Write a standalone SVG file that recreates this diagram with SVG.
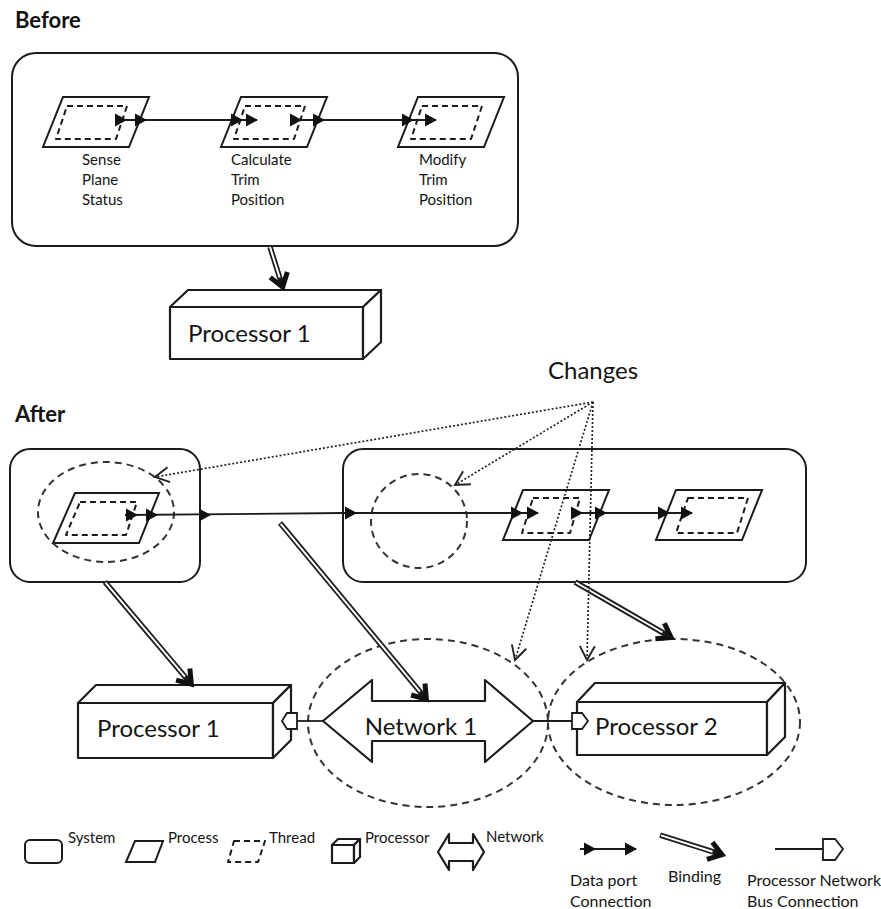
<svg xmlns="http://www.w3.org/2000/svg" width="881" height="909" viewBox="0 0 881 909">
<defs>
<style>
.t{font-family:Lato,'Liberation Sans',sans-serif;fill:#141414}
.h{font-weight:bold;font-size:22px}
.lbl{font-size:15px}
.big{font-size:24px}
.leg{font-size:15px}
.leg2{font-size:16px}
.sys{fill:#fff;stroke:#1c1c1c;stroke-width:2}
.proc{fill:#fff;stroke:#1c1c1c;stroke-width:2}
.box{fill:#fff;stroke:#1c1c1c;stroke-width:2.2;stroke-linejoin:round}
.thr{fill:none;stroke:#1c1c1c;stroke-width:2;stroke-dasharray:6 4;stroke-linejoin:round}
.chg{fill:none;stroke:#333;stroke-width:2;stroke-dasharray:7 5}
.dl{stroke:#1c1c1c;stroke-width:1.8;fill:none}
.dot{stroke:#222;stroke-width:1.7;stroke-dasharray:2 2;fill:none}
.bo{stroke:#1c1c1c;stroke-width:5.5}
.bi{stroke:#fff;stroke-width:2}
.bh{fill:none;stroke:#111;stroke-width:5;stroke-linejoin:miter}
.port{fill:#fff;stroke:#1c1c1c;stroke-width:1.8}
</style>
<path id="dp" d="M0,0 L-12,-6.5 L-12,6.5 Z" fill="#111"/>
<marker id="vee" markerUnits="userSpaceOnUse" markerWidth="24" markerHeight="24" viewBox="-18 -12 24 24" refX="0" refY="0" orient="auto">
<path d="M-14,-7.5 L0,0 L-14,7.5" fill="none" stroke="#222" stroke-width="1.9"/>
</marker>
</defs>
<rect width="881" height="909" fill="#fff"/>

<!-- titles -->
<text class="t h" x="15" y="28">Before</text>
<text class="t h" x="15" y="422">After</text>
<text class="t big" x="548" y="379">Changes</text>

<!-- Before: system -->
<g id="before-system">
<rect class="sys" x="12" y="53" width="506" height="193" rx="24"/>
</g>
<g id="sense-plane-status">
<polygon class="proc" points="63,97 149,97 129,147 43,147"/>
<polygon class="thr" points="67,106 127,106 116,139 56,139"/>
<text class="t lbl"><tspan x="82" y="165">Sense</tspan><tspan x="82" y="185">Plane</tspan><tspan x="82" y="205">Status</tspan></text>
</g>
<g id="calculate-trim-position">
<polygon class="proc" points="241,97 327,97 307,147 221,147"/>
<polygon class="thr" points="245,106 305,106 294,139 234,139"/>
<text class="t lbl"><tspan x="231" y="165">Calculate</tspan><tspan x="231" y="185">Trim</tspan><tspan x="231" y="205">Position</tspan></text>
</g>
<g id="modify-trim-position">
<polygon class="proc" points="418,97 504,97 484,147 398,147"/>
<polygon class="thr" points="422,106 482,106 471,139 411,139"/>
<text class="t lbl"><tspan x="419" y="165">Modify</tspan><tspan x="419" y="185">Trim</tspan><tspan x="419" y="205">Position</tspan></text>
</g>
<g id="before-processor-1">
<rect class="box" x="170" y="307" width="193" height="52"/>
<polygon class="box" points="170,307 188,290 381,290 363,307"/>
<polygon class="box" points="363,307 381,290 381,342 363,359"/>
<text class="t big" x="188" y="342">Processor 1</text>
</g>

<!-- After: systems -->
<g id="after-system-a">
<rect class="sys" x="10" y="449" width="190" height="133" rx="20"/>
</g>
<g id="after-system-b">
<rect class="sys" x="343" y="449" width="463" height="133" rx="20"/>
</g>
<g id="after-sense-plane-status">
<polygon class="proc" points="75,493 159,493 139,543 53,543"/>
<polygon class="thr" points="80,502 137,502 126,535 66,535"/>
</g>
<g id="after-calculate-trim-position">
<polygon class="proc" points="523,490 609,490 589,540 503,540"/>
<polygon class="thr" points="533,498 580,498 570,533 522,533"/>
</g>
<g id="after-modify-trim-position">
<polygon class="proc" points="676,490 762,490 742,540 656,540"/>
<polygon class="thr" points="688,498 748,498 737,533 676,533"/>
</g>
<g id="after-processor-1">
<rect class="box" x="78" y="703" width="195" height="55"/>
<polygon class="box" points="78,703 96,685 291,685 273,703"/>
<polygon class="box" points="273,703 291,685 291,740 273,758"/>
<polygon class="port" points="282,721 287,713 297,713 297,729 287,729"/>
<text class="t big" x="97" y="737">Processor 1</text>
</g>
<g id="network-1">
<polygon class="box" points="323,721 372,680 372,701 485,701 485,680 533,721 485,762 485,741 372,741 372,762"/>
<text class="t big" x="421" y="735" text-anchor="middle">Network 1</text>
</g>
<g id="processor-2">
<rect class="box" x="577" y="702" width="190" height="53"/>
<polygon class="box" points="577,702 595,683 785,683 767,702"/>
<polygon class="box" points="767,702 785,683 785,737 767,755"/>
<polygon class="port" points="572,713 582,713 588,721 582,729 572,729"/>
<text class="t big" x="595" y="735">Processor 2</text>
</g>

<!-- change highlights -->
<g id="change-marks">
<ellipse class="chg" cx="106" cy="512" rx="68" ry="50"/>
<ellipse class="chg" cx="419" cy="521" rx="48" ry="47"/>
<ellipse class="chg" cx="428" cy="723" rx="120" ry="84"/>
<ellipse class="chg" cx="674" cy="722" rx="126" ry="83"/>
</g>

<!-- connectors -->
<g id="connectors">
<!-- data port connections, before -->
<line class="dl" x1="115" y1="120" x2="257" y2="120"/>
<line class="dl" x1="290" y1="120" x2="436" y2="120"/>
<use href="#dp" x="127" y="120"/>
<use href="#dp" x="147" y="120"/>
<use href="#dp" x="243" y="120"/>
<use href="#dp" x="258" y="120"/>
<use href="#dp" x="302" y="120"/>
<use href="#dp" x="325" y="120"/>
<use href="#dp" x="414" y="120"/>
<use href="#dp" x="437" y="120"/>
<!-- data port connections, after -->
<line class="dl" x1="125" y1="515" x2="343" y2="513"/>
<line class="dl" x1="343" y1="513" x2="538" y2="513"/>
<line class="dl" x1="571" y1="513" x2="692" y2="513"/>
<use href="#dp" x="138" y="515"/>
<use href="#dp" x="158" y="515"/>
<use href="#dp" x="211" y="515"/>
<use href="#dp" x="357" y="513"/>
<use href="#dp" x="523" y="513"/>
<use href="#dp" x="539" y="513"/>
<use href="#dp" x="583" y="513"/>
<use href="#dp" x="607" y="513"/>
<use href="#dp" x="670" y="513"/>
<use href="#dp" x="693" y="513"/>
<!-- bus connections -->
<line class="dl" x1="297" y1="721" x2="323" y2="721"/>
<line class="dl" x1="533" y1="721" x2="572" y2="721"/>
<!-- bindings -->
<g transform="translate(283,288) rotate(72.4)">
<line class="bo" x1="-43" y1="0" x2="-5" y2="0"/><line class="bi" x1="-43" y1="0" x2="-11" y2="0"/>
<path class="bh" d="M-14,-9 L-1,0 L-14,9"/>
</g>
<g transform="translate(192,685) rotate(49.8)">
<line class="bo" x1="-135" y1="0" x2="-5" y2="0"/><line class="bi" x1="-134" y1="0" x2="-11" y2="0"/>
<path class="bh" d="M-14,-9 L-1,0 L-14,9"/>
</g>
<g transform="translate(427,700) rotate(50.3)">
<line class="bo" x1="-230" y1="0" x2="-5" y2="0"/><line class="bi" x1="-229" y1="0" x2="-11" y2="0"/>
<path class="bh" d="M-14,-9 L-1,0 L-14,9"/>
</g>
<g transform="translate(672,638) rotate(30)">
<line class="bo" x1="-112" y1="0" x2="-5" y2="0"/><line class="bi" x1="-111" y1="0" x2="-11" y2="0"/>
<path class="bh" d="M-14,-9 L-1,0 L-14,9"/>
</g>
<!-- change pointers -->
<line class="dot" x1="593" y1="402" x2="155" y2="477" marker-end="url(#vee)"/>
<line class="dot" x1="593" y1="402" x2="455" y2="485" marker-end="url(#vee)"/>
<line class="dot" x1="593" y1="402" x2="515" y2="660" marker-end="url(#vee)"/>
<line class="dot" x1="593" y1="402" x2="587" y2="660" marker-end="url(#vee)"/>
</g>

<!-- legend -->
<g id="legend">
<rect class="sys" x="25" y="840" width="37" height="23" rx="5"/>
<text class="t leg" x="68" y="843">System</text>
<polygon class="proc" points="135,841 163,841 155,862 126,862"/>
<text class="t leg" x="168" y="843">Process</text>
<polygon class="thr" points="234,841 265,841 258,862 228,862" stroke-dasharray="5 4"/>
<text class="t leg" x="269" y="843">Thread</text>
<rect class="box" x="332" y="845" width="22" height="18"/>
<polygon class="box" points="332,845 338,839 360,839 354,845"/>
<polygon class="box" points="354,845 360,839 360,857 354,863"/>
<text class="t leg" x="365" y="843">Processor</text>
<polygon class="box" points="438,852 449,834 449,843 473,843 473,834 484,852 473,870 473,861 449,861 449,870"/>
<text class="t leg" x="486" y="842">Network</text>
<line class="dl" x1="580" y1="849" x2="636" y2="849"/>
<use href="#dp" x="596" y="849"/>
<use href="#dp" x="637" y="849"/>
<text class="t leg2"><tspan x="570" y="886">Data port</tspan><tspan x="570" y="907">Connection</tspan></text>
<g transform="translate(723,855) rotate(17.6)">
<line class="bo" x1="-66" y1="0" x2="-5" y2="0"/><line class="bi" x1="-65" y1="0" x2="-11" y2="0"/>
<path class="bh" d="M-14,-9 L-1,0 L-14,9"/>
</g>
<text class="t leg2" x="668" y="882">Binding</text>
<line class="dl" x1="775" y1="849" x2="823" y2="849"/>
<polygon class="port" points="823,839 835,839 843,849 835,860 823,860"/>
<text class="t leg2"><tspan x="747" y="886">Processor Network</tspan><tspan x="747" y="907">Bus Connection</tspan></text>
</g>
</svg>
